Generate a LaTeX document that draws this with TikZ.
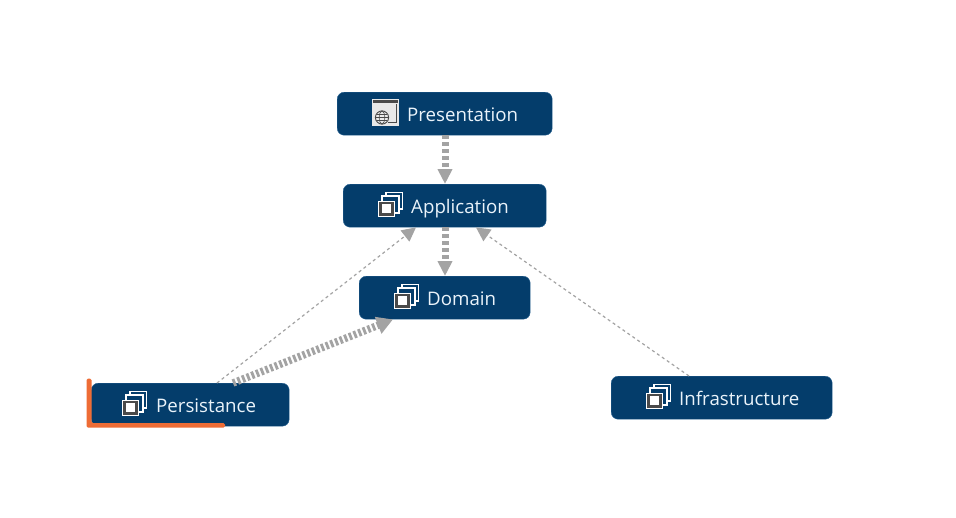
\documentclass[tikz,border=0pt]{standalone}
\usepackage{fontspec}
\setmainfont{Open Sans}
\usetikzlibrary{arrows.meta}
\definecolor{boxblue}{HTML}{043D6B}
\definecolor{boxedge}{HTML}{2A6494}
\definecolor{linegray}{HTML}{A3A3A3}
\definecolor{accent}{HTML}{EE6C35}
\definecolor{labeltext}{HTML}{EAF3FA}
\definecolor{icondark}{HTML}{4A4A4A}
\tikzset{
  layerbox/.style={draw=boxedge,line width=0.4pt,fill=boxblue,rounded corners=7pt,minimum height=43pt,inner sep=0pt,anchor=north west},
  layertext/.style={text=labeltext,font=\fontsize{18.7}{22}\selectfont,anchor=base west,inner sep=0pt},
  thickdep/.style={draw=linegray,line width=7pt,dash pattern=on 4pt off 3pt,-{Triangle[length=15pt,width=14pt,fill=linegray]}},
  diagdep/.style={draw=linegray,line width=7.5pt,dash pattern=on 2.8pt off 2.2pt,-{Triangle[length=16pt,width=17pt,fill=linegray]}},
  thindep/.style={draw=linegray,line width=1.2pt,dash pattern=on 3pt off 3pt,-{Triangle[length=14pt,width=14pt,fill=linegray]}},
  stackicon/.pic={
    \draw[white,line width=1.4pt,fill=boxblue] (8,-24.5) rectangle (24.5,-8);
    \draw[white,line width=1.4pt,fill=boxblue] (4,-21) rectangle (21,-4);
    \fill[white] (0,-16.5) rectangle (16.5,0);
    \fill[icondark] (1,-15.5) rectangle (15.5,-1);
    \fill[white] (3.6,-13) rectangle (13,-3.6);
  },
  globeicon/.pic={
    \fill[gray!18] (0,0) rectangle (27,27);
    \fill[icondark] (1,1) rectangle (26,4);
    \draw[icondark,line width=0.7pt] (24.5,5) -- (24.5,24);
    \draw[icondark,line width=0.9pt] (16,23.5) -- (25,23.5);
    \draw[icondark,line width=0.9pt,fill=white!85!gray] (10,18.5) circle (6.6);
    \draw[icondark,line width=0.6pt] (10,18.5) ellipse (2.8 and 6.6);
    \draw[icondark,line width=0.6pt] (3.4,18.5) -- (16.6,18.5) (4.6,15.3) -- (15.4,15.3) (4.6,21.7) -- (15.4,21.7);
  }
}
\begin{document}
\begin{tikzpicture}[x=1pt,y=-1pt]
\useasboundingbox (0,0) rectangle (956,517);
\fill[white] (0,0) rectangle (956,517);

\node[layerbox,minimum width=215pt] (presentation) at (337,92) {};
\node[layerbox,minimum width=203pt] (application) at (343,184) {};
\node[layerbox,minimum width=171pt] (domain) at (359,276) {};
\node[layerbox,minimum width=198pt] (persistance) at (91,383) {};
\node[layerbox,minimum width=221pt] (infrastructure) at (611,376) {};

% orange marker over Persistance
\fill[accent,rounded corners=1.5pt] (86.5,378.5) -- (91.5,378.5) -- (91.5,423) -- (225,423) -- (225,427.5) -- (86.5,427.5) -- cycle;

\node[layertext] (presentationtext) at (407,121) {Presentation};
\node[layertext] (applicationtext) at (411,213) {Application};
\node[layertext] (domaintext) at (427,305) {Domain};
\node[layertext] (persistancetext) at (156,412) {Persistance};
\node[layertext] (infrastructuretext) at (679,405) {Infrastructure};

\pic at (372,99) {globeicon};
\pic at (378,217) {stackicon};
\pic at (394,309) {stackicon};
\pic at (122,416) {stackicon};
\pic at (646,409) {stackicon};

\coordinate (pout) at ([xshift=108pt]presentation.south west);
\coordinate (ain) at ([xshift=102pt]application.north west);
\coordinate (aout) at ([xshift=102pt]application.south west);
\coordinate (dintop) at ([xshift=86pt]domain.north west);
\coordinate (ainleft) at ([xshift=73pt]application.south west);
\coordinate (ainright) at ([xshift=133pt]application.south west);
\coordinate (dinbottom) at ([xshift=34pt]domain.south west);
\coordinate (pertop) at ([xshift=126pt]persistance.north west);
\coordinate (perthick) at ([xshift=142pt]persistance.north west);
\coordinate (inftop) at ([xshift=78pt]infrastructure.north west);

\draw[thickdep] (pout) -- (ain);
\draw[thickdep] (aout) -- (dintop);
\draw[thindep] (pertop) -- (ainleft);
\draw[thindep] (inftop) -- (ainright);
\draw[diagdep] (perthick) -- (dinbottom);
\end{tikzpicture}
\end{document}
